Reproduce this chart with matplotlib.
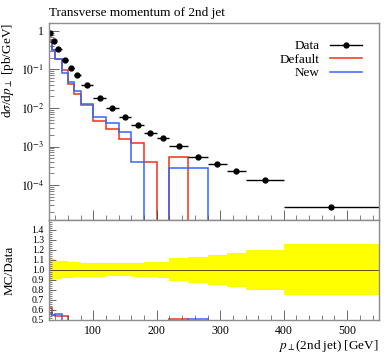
import numpy as np
import matplotlib
matplotlib.use("Agg")
import matplotlib.pyplot as plt
from matplotlib.lines import Line2D
from matplotlib.ticker import MultipleLocator, LogLocator, FixedLocator, NullFormatter

plt.rcParams['font.family'] = ['Liberation Serif', 'DejaVu Serif']
plt.rcParams['mathtext.fontset'] = 'stix'

# bin edges in GeV
edges = [30, 35, 40, 50, 60, 70, 80, 100, 120, 140, 160, 180, 200, 220, 250, 280, 310, 340, 400, 550]
data = [0.87, 0.56, 0.34, 0.18, 0.107, 0.071, 0.039, 0.0185, 0.0099, 0.0059, 0.0037,
        0.0022, 0.00166, 0.00103, 0.00053, 0.00036, 0.00023, 0.000135, 2.7e-5]
data_err = [0.12, 0.11, 0.09, 0.085, 0.08, 0.075, 0.072, 0.068, 0.065, 0.065, 0.068,
            0.075, 0.08, 0.115, 0.13, 0.15, 0.17, 0.20, 0.255]
default = [0.535, 0.31, 0.185, 0.098, 0.043, 0.023, 0.012, 0.0045, 0.0028, 0.0016, 0.0012,
           0.0004, 0, 0.00053, 0, 0, 0, 0, 0]
new = [0.50, 0.31, 0.19, 0.082, 0.048, 0.028, 0.0125, 0.006, 0.004, 0.0024, 0.0004,
       0, 0, 0.00027, 0.00027, 0, 0, 0, 0]

edges = np.array(edges, dtype=float)
data = np.array(data)
data_err = np.array(data_err)
default = np.array(default)
new = np.array(new)
centers = 0.5 * (edges[:-1] + edges[1:])
halfw = 0.5 * np.diff(edges)

red = '#EE3311'
blue = '#3366FF'
frame = '0.55'

fig = plt.figure(figsize=(3.91, 3.53), dpi=100)
ax = fig.add_axes([0.125, 0.377, 0.844, 0.558])
axr = fig.add_axes([0.125, 0.0935, 0.844, 0.2835], sharex=ax)

# main panel
tiny = 1e-12
ax.stairs(np.where(default > 0, default, tiny), edges, baseline=None, color=red, lw=1.1)
ax.stairs(np.where(new > 0, new, tiny), edges, baseline=None, color=blue, lw=1.1)
ax.errorbar(centers, data, xerr=halfw, yerr=data * data_err * 0.3, fmt='o', color='k',
            ms=3.5, lw=1.0, capsize=0)
ax.set_yscale('log')
ax.set_xlim(30, 550)
ax.set_ylim(1.25e-5, 1.6)
ax.set_title('Transverse momentum of 2nd jet', loc='left', fontsize=9.5, pad=5)
ax.set_ylabel(r'd$\sigma$/d$p_\perp$ [pb/GeV]', loc='top', fontsize=9.5)
ax.yaxis.set_major_locator(FixedLocator([1, 1e-1, 1e-2, 1e-3, 1e-4]))
ax.set_yticklabels(['1', r'$10^{-1}$', r'$10^{-2}$', r'$10^{-3}$', r'$10^{-4}$'])
ax.yaxis.set_minor_locator(LogLocator(base=10, subs=np.arange(2, 10), numticks=20))
ax.yaxis.set_minor_formatter(NullFormatter())
ax.tick_params(labelbottom=False)

handles = [Line2D([], [], color='k', marker='o', ms=3.5, lw=1.0),
           Line2D([], [], color=red, lw=1.1),
           Line2D([], [], color=blue, lw=1.1)]
ax.legend(handles, ['Data', 'Default', 'New'], loc='upper right', frameon=False,
          markerfirst=False, fontsize=9.5, handlelength=2.4, labelspacing=0.1,
          borderaxespad=0.9)

# ratio panel
axr.stairs(1 + data_err, edges, baseline=1 - data_err, fill=True, color='#FFFF00', lw=0)
axr.axhline(1.0, color='#555500', lw=0.7)
axr.stairs(default / data, edges, baseline=None, color=red, lw=1.1)
axr.stairs(new / data, edges, baseline=None, color=blue, lw=1.1)
axr.set_ylim(0.5, 1.5)
axr.yaxis.set_major_locator(FixedLocator(np.round(np.arange(0.5, 1.45, 0.1), 1)))
axr.yaxis.set_minor_locator(MultipleLocator(0.02))
axr.set_ylabel('MC/Data', fontsize=9.5)
axr.set_xlabel(r'$p_\perp$(2nd jet) [GeV]', loc='right', fontsize=9.5, labelpad=1)
axr.xaxis.set_major_locator(MultipleLocator(100))
axr.xaxis.set_minor_locator(MultipleLocator(20))

for a in (ax, axr):
    a.tick_params(which='both', direction='in', top=False, right=False, colors='0.3',
                  labelcolor='k', labelsize=8.5)
    a.tick_params(which='major', length=7, width=0.6)
    a.tick_params(which='minor', length=3.5, width=0.5)
    for s in a.spines.values():
        s.set_color(frame)
        s.set_linewidth(1.0)
axr.tick_params(axis='y', which='major', labelsize=7, length=5)
axr.tick_params(axis='y', which='minor', length=2.5)

ax.yaxis.set_label_coords(-0.1, 1.0)
axr.yaxis.set_label_coords(-0.1, 0.5)

fig.savefig('out.png', dpi=100)
